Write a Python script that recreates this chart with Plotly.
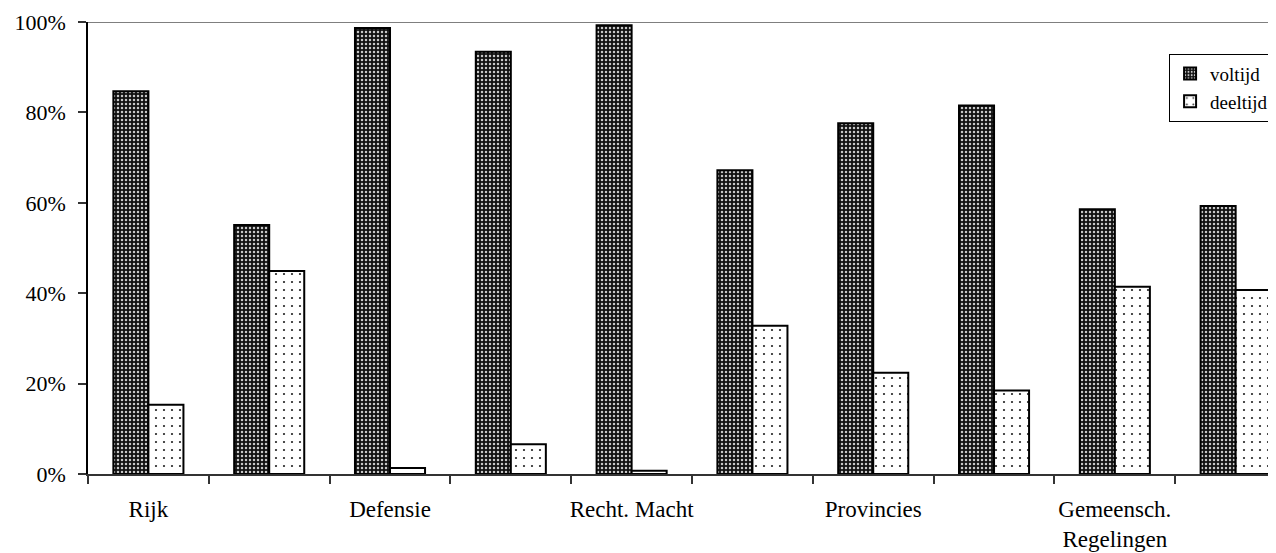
import plotly.graph_objects as go

categories = ["Rijk", "Onderwijs", "Defensie", "Politie", "Recht. Macht",
              "Gemeenten", "Provincies", "Waterschappen",
              "Gemeensch. Regelingen", "Overig"]
tick_labels = ["Rijk", "", "Defensie", "", "Recht. Macht", "",
               "Provincies", "", "Gemeensch.<br>Regelingen", ""]
y_ticks = [0, 20, 40, 60, 80, 100]
y_tick_labels = ["0%", "20%", "40%", "60%", "80%", "100%"]
voltijd = [84.7, 55.1, 98.7, 93.4, 99.3, 67.2, 77.6, 81.5, 58.6, 59.3]
deeltijd = [15.3, 44.9, 1.3, 6.6, 0.7, 32.8, 22.4, 18.5, 41.4, 40.7]

FONT = "Liberation Serif, Times New Roman, serif"

fig = go.Figure()
fig.add_trace(go.Bar(
    name="voltijd", x=categories, y=voltijd,
    marker=dict(color="#111111",
                line=dict(color="black", width=2),
                pattern=dict(shape=".", fgcolor="#c8c8c8", bgcolor="#111111",
                             size=4, solidity=0.3, fillmode="replace")),
))
fig.add_trace(go.Bar(
    name="deeltijd", x=categories, y=deeltijd,
    marker=dict(color="white",
                line=dict(color="black", width=2),
                pattern=dict(shape=".", fgcolor="#222222", bgcolor="white",
                             size=8, solidity=0.06, fillmode="replace")),
))

# page has an 8px body margin: compensate so the plot lands where the reference's is
fig.update_layout(
    width=1268, height=545,
    margin=dict(l=80, r=0, t=14, b=79),
    paper_bgcolor="white", plot_bgcolor="white",
    barmode="group", bargap=0.42, bargroupgap=0,
    font=dict(family=FONT, color="black", size=22),
    showlegend=True,
    legend=dict(x=0.91, y=0.93, xanchor="left", yanchor="top",
                bgcolor="white", bordercolor="black", borderwidth=1,
                font=dict(family=FONT, size=19, color="black"),
                itemwidth=30, tracegroupgap=8),
)
fig.update_xaxes(
    type="category", categoryorder="array", categoryarray=categories,
    tickvals=categories, ticktext=tick_labels,
    range=[-0.5, 9.334], tickson="boundaries",
    ticks="outside", ticklen=8, tickcolor="#333", tickwidth=1.5,
    showline=True, linecolor="#333", linewidth=1.5,
    showgrid=False, tickangle=0, ticklabelstandoff=14,
    tickfont=dict(family=FONT, size=23, color="black"),
)
fig.update_yaxes(
    range=[0, 100], tickvals=y_ticks, ticktext=y_tick_labels,
    ticks="outside", ticklen=8, tickcolor="#333", tickwidth=1.5,
    showline=True, linecolor="black", linewidth=1.5,
    showgrid=False, zeroline=False, ticklabelstandoff=8,
    tickfont=dict(family=FONT, size=22, color="black"),
)
fig.add_shape(type="line", xref="paper", yref="y", x0=0, x1=1, y0=100, y1=100,
              line=dict(color="#555555", width=1.5))

fig.write_html("out.html")
